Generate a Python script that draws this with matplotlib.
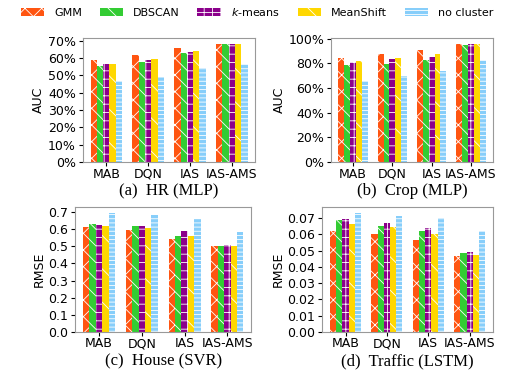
import numpy as np
import matplotlib
matplotlib.use("Agg")
import matplotlib.pyplot as plt
from matplotlib.ticker import PercentFormatter

# data
groups = ["MAB", "DQN", "IAS", "IAS-AMS"]
methods = ["GMM", "DBSCAN", "$k$-means", "MeanShift", "no cluster"]
colors = ["#FF5511", "#33CC33", "#8B008B", "#FFD700", "#87CEFA"]
hatches = ["xx", "\\\\", "++", "\\", "----"]

hr = [[59.0, 55.3, 56.8, 56.8, 47.0],
      [62.0, 58.0, 59.0, 59.5, 49.3],
      [66.0, 62.8, 63.5, 64.4, 54.3],
      [68.3, 68.0, 68.0, 68.0, 56.6]]
crop = [[84.3, 78.5, 81.0, 81.5, 65.8],
        [87.5, 79.8, 83.2, 84.3, 69.8],
        [90.8, 82.6, 84.8, 87.3, 73.8],
        [95.8, 94.5, 95.8, 95.8, 82.3]]
house = [[0.612, 0.628, 0.625, 0.618, 0.695],
         [0.597, 0.616, 0.617, 0.605, 0.683],
         [0.544, 0.560, 0.587, 0.560, 0.660],
         [0.503, 0.503, 0.506, 0.503, 0.583]]
traffic = [[0.0621, 0.0690, 0.0695, 0.0665, 0.0731],
           [0.0602, 0.0650, 0.0668, 0.0645, 0.0712],
           [0.0566, 0.0622, 0.0638, 0.0602, 0.0701],
           [0.0467, 0.0485, 0.0494, 0.0473, 0.0620]]

plt.rcParams['hatch.linewidth'] = 0.6
plt.rcParams['font.family'] = 'DejaVu Sans'

fig = plt.figure(figsize=(5.14, 3.75), dpi=100)
boxes = [[0.161, 0.568, 0.336, 0.331],
         [0.644, 0.568, 0.315, 0.331],
         [0.146, 0.115, 0.343, 0.333],
         [0.627, 0.115, 0.332, 0.333]]
panels = [(hr, "AUC", "(a)  HR (MLP)", np.arange(0, 71, 10), True),
          (crop, "AUC", "(b)  Crop (MLP)", np.arange(0, 101, 20), True),
          (house, "RMSE", "(c)  House (SVR)", np.arange(0, 0.71, 0.1), False),
          (traffic, "RMSE", "(d)  Traffic (LSTM)", np.arange(0, 0.071, 0.01), False)]

x = np.arange(len(groups))
w = 0.15
handles = []
for box, (vals, ylab, cap, yt, pct) in zip(boxes, panels):
    ax = fig.add_axes(box)
    vals = np.array(vals)
    for i in range(len(methods)):
        b = ax.bar(x + (i - 2) * w, vals[:, i], w, color=colors[i],
                   edgecolor="white", linewidth=0, hatch=hatches[i], label=methods[i])
        if len(handles) < len(methods):
            handles.append(b)
    ax.set_xticks(x)
    ax.set_xticklabels(groups, fontsize=9)
    ax.set_yticks(yt)
    if pct:
        ax.yaxis.set_major_formatter(PercentFormatter(decimals=0))
    elif yt[-1] < 0.1:
        ax.set_yticklabels(["%.2f" % v for v in yt])
    else:
        ax.set_yticklabels(["%.1f" % v for v in yt])
    ax.tick_params(axis="y", labelsize=9, length=3, pad=2)
    ax.tick_params(axis="x", length=3, pad=1)
    ax.set_ylabel(ylab, fontsize=9, labelpad=2)
    for s in ax.spines.values():
        s.set_color("#999999")
    ax.text(0.5, -0.17, cap, transform=ax.transAxes, ha="center", va="top",
            fontsize=12, family="Liberation Serif")

fig.legend(handles, methods, loc="center", bbox_to_anchor=(0.5, 0.968), ncol=5,
           frameon=False, fontsize=8, handlelength=2.1, columnspacing=1.6,
           handletextpad=0.9)

fig.savefig("out.png", dpi=100)
